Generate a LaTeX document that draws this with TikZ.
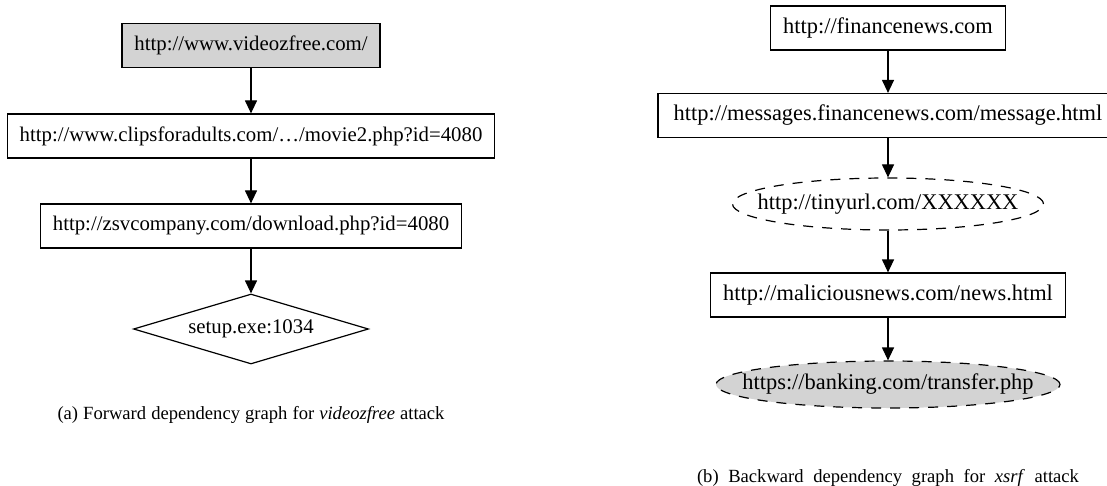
\documentclass[tikz,border=0pt]{standalone}
\usepackage{fontspec}
\setmainfont{Liberation Serif}
\usetikzlibrary{shapes,arrows.meta,positioning}
\definecolor{nodegray}{RGB}{211,211,211}
\newcommand{\nodefont}{\fontsize{10.4}{12}\selectfont}
\newcommand{\bignodefont}{\fontsize{11.2}{13}\selectfont}
\newcommand{\capfont}{\fontsize{9.3}{11}\selectfont}

\begin{document}
\begin{tikzpicture}[x=0.5pt,y=-0.5pt]
  % Styles
  \tikzstyle{page}=[rectangle, draw, line width=0.6pt, minimum height=22pt, inner xsep=6.2pt, font=\nodefont]
  \tikzstyle{link}=[ellipse, draw, dash pattern=on 5pt off 4.5pt, line width=0.6pt, inner sep=0pt, font=\bignodefont]
  \tikzstyle{proc}=[diamond, draw, line width=0.6pt, inner sep=0pt, minimum width=117.5pt, minimum height=35pt, font=\nodefont]
  \tikzstyle{dep}=[-{Triangle[length=6.5pt,width=6pt]}, line width=0.6pt]
  \tikzstyle{caption}=[inner sep=0pt, font=\capfont]

  \useasboundingbox (0,0) rectangle (1107,486);

  % (a) forward graph
  \node[page, fill=nodegray] (vf) at (251,45.5) {http://www.videozfree.com/};
  \node[page] (clips) at (251,136) {http://www.clipsforadults.com/…/movie2.php?id=4080};
  \node[page] (zsv) at (251,226) {http://zsvcompany.com/download.php?id=4080};
  \node[proc] (setup) at (251,329) {\makebox[0pt]{setup.exe:1034}};

  \draw[dep] (vf) -- (clips);
  \draw[dep] (clips) -- (zsv);
  \draw[dep] (zsv) -- (setup);

  \node[caption] (capa) at (251,415) {\makebox[193.5pt][s]{(a) Forward dependency graph for \textit{videozfree} attack}};

  % (b) backward graph
  \node[page, font=\bignodefont] (fin) at (888,28) {http://financenews.com};
  \node[page, font=\bignodefont, minimum width=230pt] (msg) at (888,115.5) {http://messages.financenews.com/message.html};
  \node[link, minimum width=155.5pt, minimum height=26pt] (tiny) at (888,204) {\makebox[0pt]{http://tinyurl.com/XXXXXX}};
  \node[page, font=\bignodefont] (mal) at (888,295) {http://maliciousnews.com/news.html};
  \node[link, fill=nodegray, minimum width=172pt, minimum height=23.5pt] (bank) at (888,384.5) {\makebox[0pt]{https://banking.com/transfer.php}};

  \draw[dep] (fin) -- (msg);
  \draw[dep] (msg) -- (tiny);
  \draw[dep] (tiny) -- (mal);
  \draw[dep] (mal) -- (bank);

  \node[caption] (capb) at (888,478) {\makebox[191pt][s]{(b) Backward dependency graph for \textit{xsrf} attack}};
\end{tikzpicture}
\end{document}
